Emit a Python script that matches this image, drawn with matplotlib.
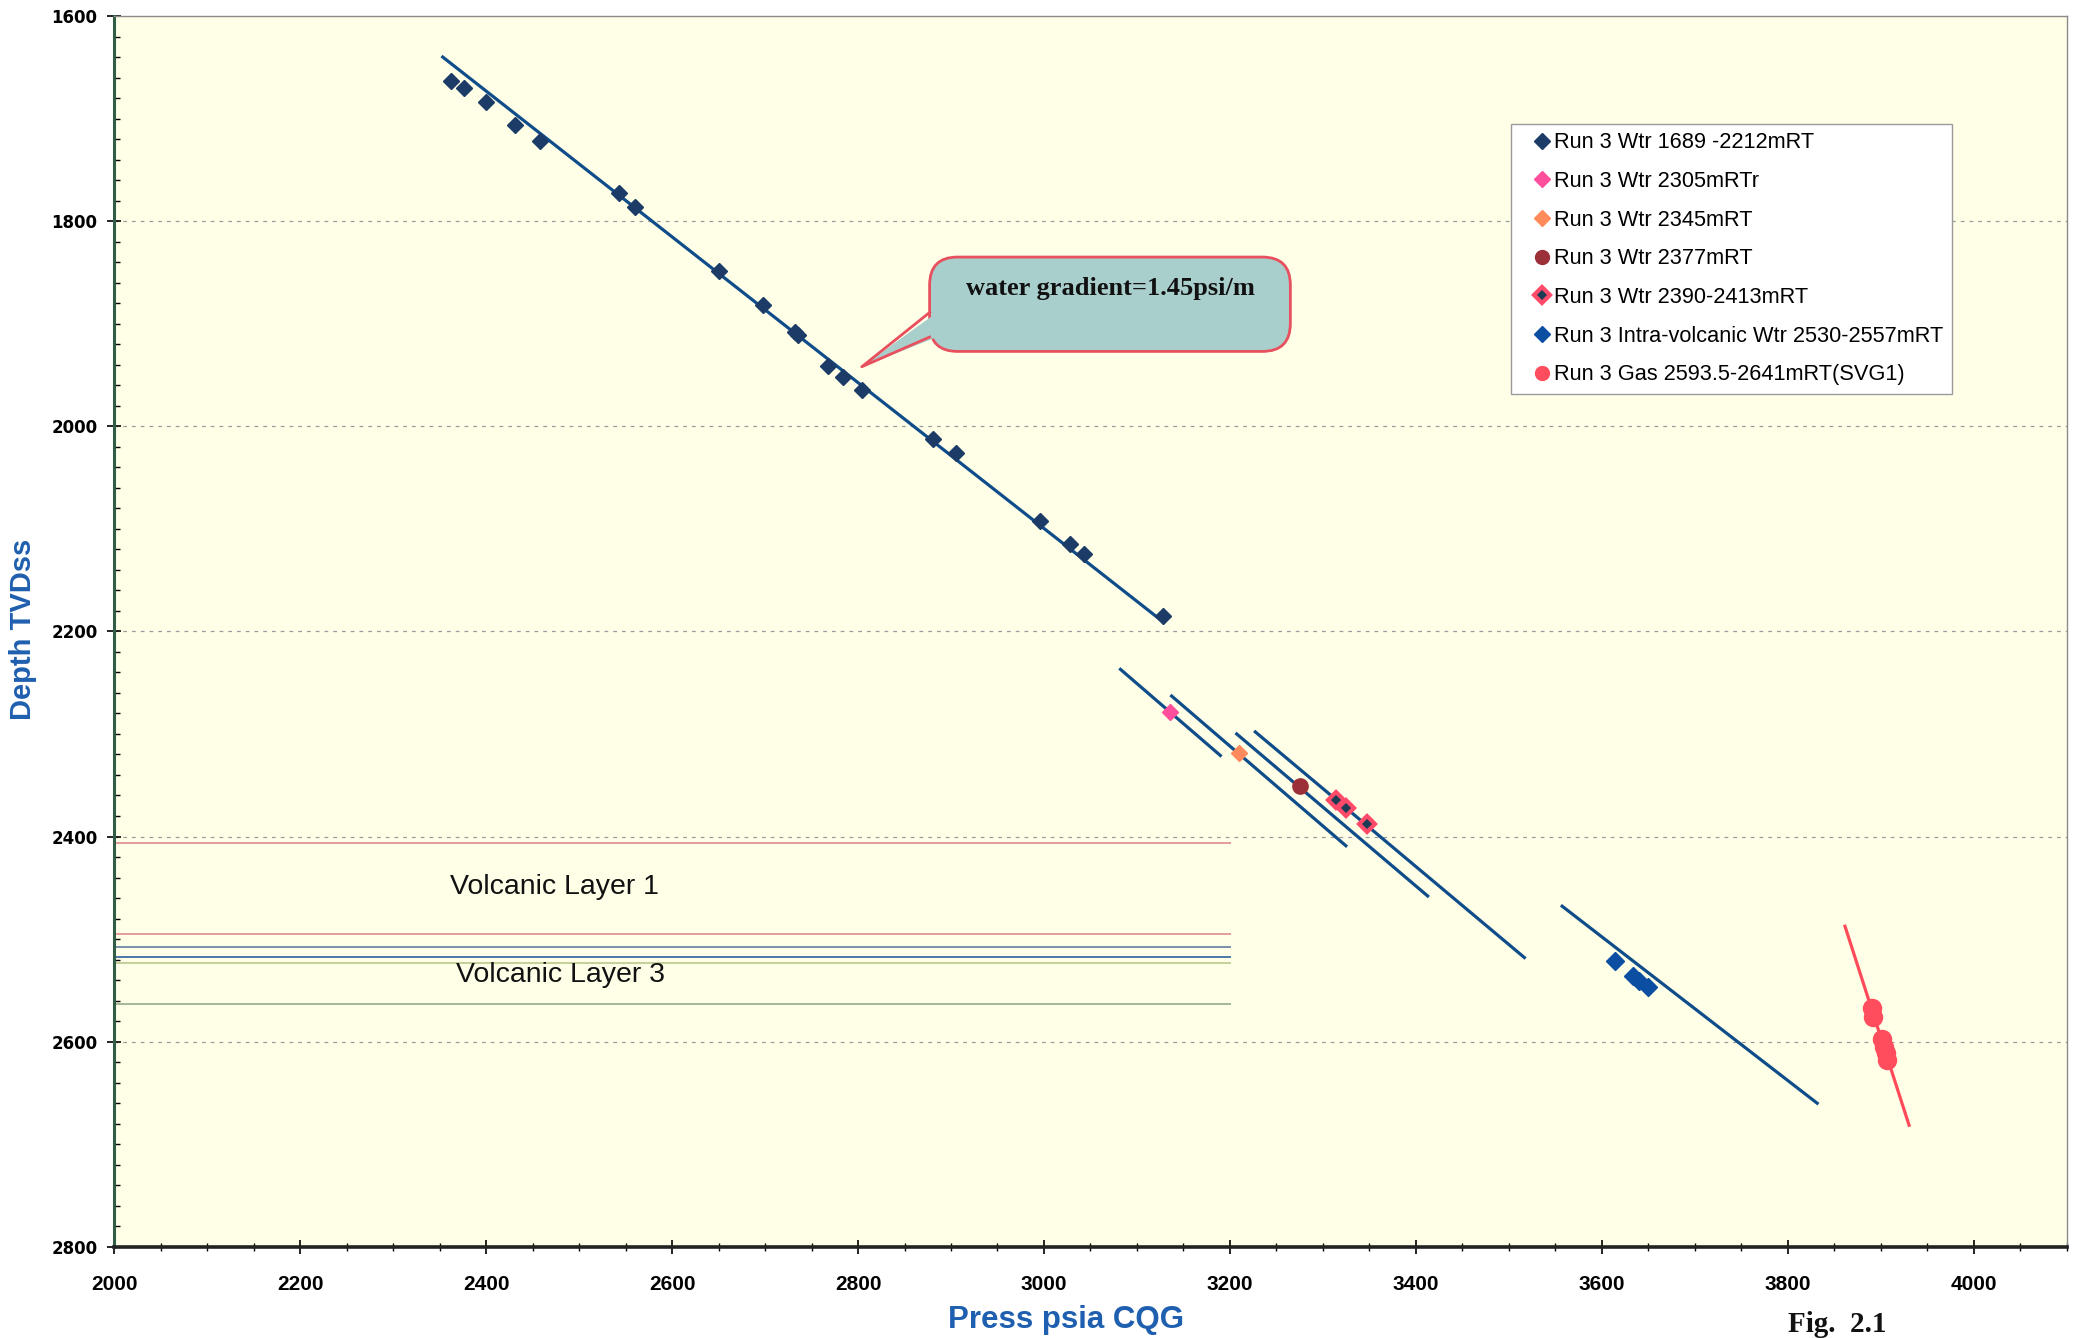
# Pressure vs depth plot (Run 3), rebuilt with matplotlib.
import matplotlib
matplotlib.use("Agg")

import matplotlib.pyplot as plt
from matplotlib.lines import Line2D
from matplotlib.patches import FancyBboxPatch, Polygon
from matplotlib.ticker import MultipleLocator

# ---- data ----

# Run 3 Wtr 1689 -2212mRT
wtr1_press = [2362, 2376, 2400, 2431, 2458, 2543, 2560, 2651, 2698, 2732,
              2735, 2768, 2784, 2804, 2881, 2905, 2996, 3028, 3043, 3128]
wtr1_depth = [1663, 1670, 1684, 1706, 1722, 1773, 1786, 1849, 1882, 1908,
              1911, 1941, 1952, 1965, 2012, 2026, 2092, 2115, 2125, 2185]

# Run 3 Wtr 2305mRTr
wtr2305_press = [3136]
wtr2305_depth = [2279]

# Run 3 Wtr 2345mRT
wtr2345_press = [3210]
wtr2345_depth = [2319]

# Run 3 Wtr 2377mRT
wtr2377_press = [3275]
wtr2377_depth = [2351]

# Run 3 Wtr 2390-2413mRT
wtr2390_press = [3314, 3325, 3347]
wtr2390_depth = [2364, 2372, 2388]

# Run 3 Intra-volcanic Wtr 2530-2557mRT
intra_press = [3614, 3634, 3640, 3650]
intra_depth = [2521, 2536, 2541, 2547]

# Run 3 Gas 2593.5-2641mRT(SVG1)
gas_press = [3891, 3892, 3901, 3903, 3906, 3907]
gas_depth = [2567, 2576, 2597, 2605, 2611, 2618]

# hand drawn gradient lines (start/end pressure and depth)
trend_press = [[2352, 3130], [3081, 3191], [3136, 3326], [3206, 3414],
               [3226, 3518], [3556, 3833], [3861, 3931]]
trend_depth = [[1639, 2192], [2236, 2322], [2262, 2410], [2299, 2459],
               [2297, 2519], [2467, 2661], [2486, 2683]]
trend_colors = ["#0f4c8a"] * 6 + ["#ff4a5a"]

# volcanic layer boundaries
layer_depth = [2406, 2495, 2508, 2517.5, 2523, 2563]
layer_colors = ["#e59a9a", "#e59a9a", "#7890aa", "#4a78a8", "#c4d098", "#a4b894"]
layer_press_max = 3200

# axis ticks
x_ticks = list(range(2000, 4001, 200))
y_ticks = list(range(1600, 2801, 200))

SANS = ["Liberation Sans", "DejaVu Sans"]
SERIF = ["Liberation Serif", "DejaVu Serif"]

# ---- figure ----
fig = plt.figure(figsize=(20.84, 13.38), dpi=100)
fig.patch.set_facecolor("white")

# axes placed to match the original frame
ax = fig.add_axes([0.0548, 0.0682, 0.9369, 0.9198])
ax.set_facecolor("#ffffe8")

# limits (depth increases downwards)
ax.set_xlim(2000, 4100)
ax.set_ylim(2800, 1600)

# dashed grid lines on the major depth ticks
for d in y_ticks[1:-1]:
    ax.axhline(d, color="#9a9a9a", linestyle=(0, (3, 4)), linewidth=0.9, zorder=1)

# volcanic layer lines
for d, c in zip(layer_depth, layer_colors):
    ax.plot([2000, layer_press_max], [d, d], color=c, linewidth=1.4, zorder=2)

ax.text(2474, 2449, "Volcanic Layer 1", fontsize=20.5, ha="center", va="center",
        family=SANS, color="#111111")
ax.text(2480, 2535, "Volcanic Layer 3", fontsize=20.5, ha="center", va="center",
        family=SANS, color="#111111")

# gradient lines
for px, dy, c in zip(trend_press, trend_depth, trend_colors):
    ax.plot(px, dy, color=c, linewidth=2.3, solid_capstyle="butt", zorder=3)

# data points
ax.plot(wtr1_press, wtr1_depth, "D", color="#1c3b66", markersize=8, zorder=4)
ax.plot(wtr2305_press, wtr2305_depth, "D", color="#ff4f9c", markersize=8, zorder=4)
ax.plot(wtr2345_press, wtr2345_depth, "D", color="#ff8a5c", markersize=8, zorder=4)
ax.plot(wtr2377_press, wtr2377_depth, "o", color="#9c3038", markersize=11, zorder=4)
ax.plot(wtr2390_press, wtr2390_depth, "D", markerfacecolor="#1c3b55",
        markeredgecolor="#ff4a6a", markeredgewidth=3, markersize=8, zorder=4)
ax.plot(intra_press, intra_depth, "D", color="#0b4ea2", markersize=9, zorder=4)
ax.plot(gas_press, gas_depth, "o", color="#ff4d5e", markersize=13, zorder=4)

# callout box with the water gradient
box_fill = "#a9cfcd"
box_edge = "#e8505e"
box = FancyBboxPatch((2877, 1835), 388, 92,
                     boxstyle="round,pad=0,rounding_size=30",
                     mutation_aspect=0.907,
                     facecolor=box_fill, edgecolor=box_edge, linewidth=2, zorder=5)
ax.add_patch(box)
# pointer: filled wedge covering the box edge, then its two red sides
wedge = Polygon([(2885, 1889), (2804, 1942), (2885, 1913)], closed=True,
                facecolor=box_fill, edgecolor="none", zorder=6)
ax.add_patch(wedge)
ax.plot([2877, 2804, 2877], [1889, 1942, 1913], color=box_edge, linewidth=2, zorder=7)
ax.text(3072, 1866, "water gradient=1.45psi/m", fontsize=19, fontweight="bold",
        ha="center", va="center", family=SERIF, color="#111111", zorder=8)

# ---- ticks and spines ----
ax.xaxis.set_minor_locator(MultipleLocator(50))
ax.yaxis.set_minor_locator(MultipleLocator(20))
ax.set_xticks(x_ticks)
ax.set_yticks(y_ticks)

ax.tick_params(axis="y", which="major", direction="inout", length=10, width=1.2, pad=7,
               labelsize=12)
ax.tick_params(axis="y", which="minor", direction="in", length=4, width=1)
ax.tick_params(axis="x", which="major", direction="inout", length=10, width=1.2, pad=15,
               labelsize=15)
ax.tick_params(axis="x", which="minor", direction="inout", length=6, width=1)

for lab in ax.get_yticklabels():
    lab.set_fontweight("bold")
    lab.set_family(["DejaVu Sans"])
for lab in ax.get_xticklabels():
    lab.set_fontweight("bold")
    lab.set_family(SANS)

ax.spines["left"].set_color("#2f5d45")
ax.spines["left"].set_linewidth(2.2)
ax.spines["bottom"].set_color("#222222")
ax.spines["bottom"].set_linewidth(2.6)
ax.spines["top"].set_color("#8a8a8a")
ax.spines["top"].set_linewidth(1)
ax.spines["right"].set_color("#8a8a8a")
ax.spines["right"].set_linewidth(1)

# axis titles placed as figure text
fig.text(1066 / 2084, 1 - 1320 / 1338, "Press psia CQG", fontsize=22.5, fontweight="bold",
         color="#1f5faf", ha="center", va="center", family=SANS)
fig.text(23 / 2084, 1 - 629 / 1338, "Depth TVDss", fontsize=21, fontweight="bold",
         color="#1f5faf", ha="center", va="center", rotation=90, family=SANS)
fig.text(1837 / 2084, 1 - 1325 / 1338, "Fig.  2.1", fontsize=21, fontweight="bold",
         color="#111111", ha="center", va="center", family=SERIF)

# ---- legend ----
handles = [
    Line2D([], [], linestyle="none", marker="D", color="#1c3b66", markersize=8),
    Line2D([], [], linestyle="none", marker="D", color="#ff4f9c", markersize=8),
    Line2D([], [], linestyle="none", marker="D", color="#ff8a5c", markersize=8),
    Line2D([], [], linestyle="none", marker="o", color="#9c3038", markersize=10),
    Line2D([], [], linestyle="none", marker="D", markerfacecolor="#1c3b55",
           markeredgecolor="#ff4a6a", markeredgewidth=3, markersize=8),
    Line2D([], [], linestyle="none", marker="D", color="#0b4ea2", markersize=8),
    Line2D([], [], linestyle="none", marker="o", color="#ff4d5e", markersize=10),
]
labels = [
    "Run 3 Wtr 1689 -2212mRT",
    "Run 3 Wtr 2305mRTr",
    "Run 3 Wtr 2345mRT",
    "Run 3 Wtr 2377mRT",
    "Run 3 Wtr 2390-2413mRT",
    "Run 3 Intra-volcanic Wtr 2530-2557mRT",
    "Run 3 Gas 2593.5-2641mRT(SVG1)",
]
leg = ax.legend(handles, labels, loc="upper left", bbox_to_anchor=(0.7154, 0.9126),
                borderaxespad=0, fancybox=False, frameon=True, handlelength=2.05,
                handletextpad=-0.49, labelspacing=0.81, borderpad=0.4,
                prop={"family": SANS, "size": 15.7})
leg.get_frame().set_edgecolor("#9a9a9a")
leg.get_frame().set_facecolor("white")
leg.get_frame().set_linewidth(1)
leg.get_frame().set_alpha(1)

fig.savefig("out.png", dpi=100)
